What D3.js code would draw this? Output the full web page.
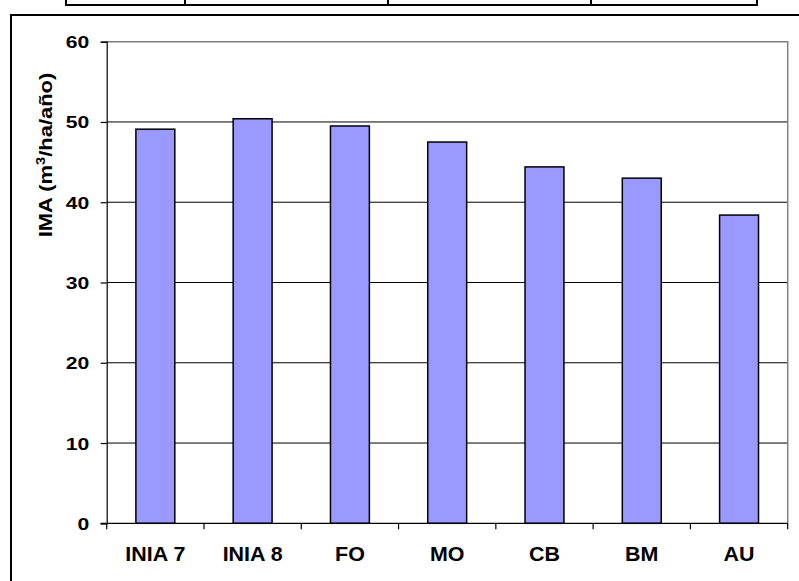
<!DOCTYPE html>
<html>
<head>
<meta charset="utf-8">
<script src="https://cdn.jsdelivr.net/npm/d3@7"></script>
<style>
  html, body { margin: 0; padding: 0; background: #fff; }
  svg { display: block; }
  text { font-family: Arial, "Liberation Sans", sans-serif; font-weight: bold; fill: #000; }
</style>
</head>
<body>
<svg id="chart" width="799" height="581"></svg>
<script>
// Mean annual increment by clone / provenance
const categories = ["INIA 7", "INIA 8", "FO", "MO", "CB", "BM", "AU"];
const imaValues = [49.1, 50.4, 49.5, 47.5, 44.4, 43.0, 38.4];
const yTicks = [0, 10, 20, 30, 40, 50, 60];
// Column edges of the table row that sits above the chart
const tableColumns = [66, 185, 388, 591, 757];

const svg = d3.select("#chart");

// Bottom edge of the table above the chart
const table = svg.append("g");
table.append("line")
  .attr("x1", tableColumns[0]).attr("x2", tableColumns[tableColumns.length - 1])
  .attr("y1", 5).attr("y2", 5)
  .attr("stroke", "#000").attr("stroke-width", 2);
table.selectAll("line.col").data(tableColumns).join("line")
  .attr("class", "col")
  .attr("x1", d => d).attr("x2", d => d)
  .attr("y1", 0).attr("y2", 6)
  .attr("stroke", "#000").attr("stroke-width", 2);

// Chart frame
svg.append("rect")
  .attr("x", 11).attr("y", 15)
  .attr("width", 820).attr("height", 600)
  .attr("fill", "none").attr("stroke", "#000").attr("stroke-width", 2);

const plot = { left: 106.7, right: 787.7, top: 41.7, bottom: 523.3 };

const x = d3.scaleBand()
  .domain(categories)
  .range([plot.left, plot.right])
  .paddingInner(0.6).paddingOuter(0.3);

const xEdges = d3.scaleBand()
  .domain(categories)
  .range([plot.left, plot.right])
  .padding(0);

const y = d3.scaleLinear()
  .domain([0, 60])
  .range([plot.bottom, plot.top]);

// Gridlines
svg.append("g")
  .selectAll("line")
  .data(yTicks.filter(d => d > 0 && d < 60))
  .join("line")
  .attr("x1", plot.left).attr("x2", plot.right)
  .attr("y1", d => y(d)).attr("y2", d => y(d))
  .attr("stroke", "#000").attr("stroke-width", 1);

// Plot area border (top and right)
svg.append("path")
  .attr("d", `M${plot.left},${y(60)}H${plot.right}V${plot.bottom}`)
  .attr("fill", "none").attr("stroke", "#808080").attr("stroke-width", 1.5);

// Bars
svg.append("g")
  .selectAll("rect")
  .data(categories.map((c, i) => ({ c, v: imaValues[i] })))
  .join("rect")
  .attr("x", d => x(d.c))
  .attr("width", x.bandwidth())
  .attr("y", d => y(d.v))
  .attr("height", d => y(0) - y(d.v))
  .attr("fill", "#9999FF")
  .attr("stroke", "#000").attr("stroke-width", 1.5);

// Y axis
const yAxis = svg.append("g")
  .attr("transform", `translate(${plot.left},0)`)
  .call(d3.axisLeft(y).tickValues(yTicks).tickSize(6).tickFormat(d3.format("d")));
yAxis.select(".domain").attr("stroke", "#000").attr("stroke-width", 1.2);
yAxis.selectAll(".tick line").attr("stroke", "#000").attr("stroke-width", 1.2);
yAxis.selectAll(".tick text")
  .attr("x", null).attr("dy", null)
  .attr("text-anchor", "end")
  .attr("font-size", 16.5)
  .attr("font-family", null)
  .attr("transform", "translate(-17.5,6) scale(1.28,1)");

// X axis with ticks at category boundaries
const xAxisG = svg.append("g").attr("transform", `translate(0,${plot.bottom})`);
xAxisG.append("line")
  .attr("x1", plot.left - 6).attr("x2", plot.right)
  .attr("stroke", "#000").attr("stroke-width", 1.2);
const boundaries = categories.map(c => xEdges(c)).concat([plot.right]);
xAxisG.selectAll("line.tk").data(boundaries).join("line")
  .attr("class", "tk")
  .attr("x1", d => d).attr("x2", d => d)
  .attr("y1", 0).attr("y2", 6)
  .attr("stroke", "#000").attr("stroke-width", 1.2);
xAxisG.selectAll("text").data(categories).join("text")
  .attr("text-anchor", "middle")
  .attr("font-size", 19.5)
  .attr("transform", d => `translate(${xEdges(d) + xEdges.bandwidth() / 2},38) scale(1.1,1)`)
  .text(d => d);

// Y axis title
const title = svg.append("text")
  .attr("text-anchor", "middle")
  .attr("font-size", 18)
  .attr("transform", "translate(52,155) rotate(-90) scale(1.22,1)");
title.append("tspan").text("IMA (m");
title.append("tspan").attr("font-size", 12).attr("dy", -7).text("3");
title.append("tspan").attr("dy", 7).text("/ha/año)");
</script>
</body>
</html>
